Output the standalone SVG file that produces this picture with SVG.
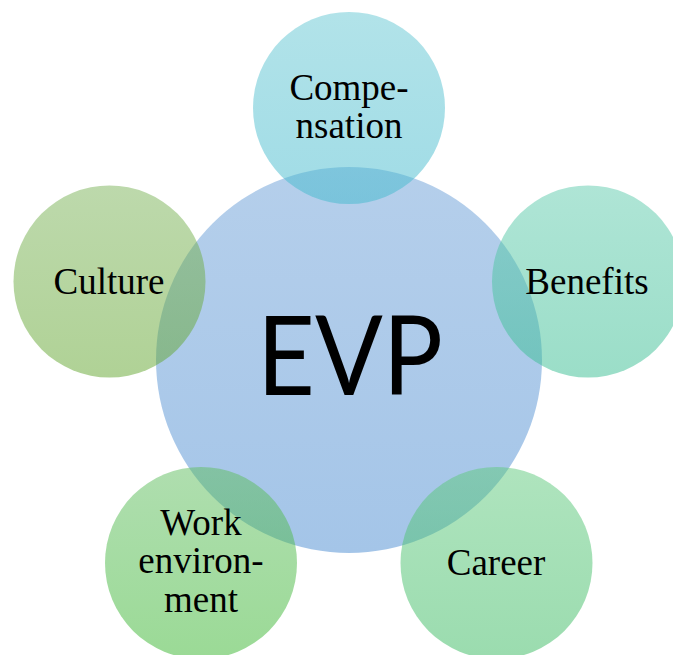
<svg xmlns="http://www.w3.org/2000/svg" width="673" height="655" viewBox="0 0 673 655">
<defs>
<linearGradient id="gC" x1="0" y1="0" x2="0" y2="1"><stop offset="0" stop-color="#b5cfeb"/><stop offset="1" stop-color="#a4c5e8"/></linearGradient>
<linearGradient id="gT" x1="0" y1="0" x2="0" y2="1"><stop offset="0" stop-color="#65c7d3"/><stop offset="1" stop-color="#41b9cd"/></linearGradient>
<linearGradient id="gB" x1="0" y1="0" x2="0" y2="1"><stop offset="0" stop-color="#5fcbad"/><stop offset="1" stop-color="#37bd91"/></linearGradient>
<linearGradient id="gL" x1="0" y1="0" x2="0" y2="1"><stop offset="0" stop-color="#7bb359"/><stop offset="1" stop-color="#61a52d"/></linearGradient>
<linearGradient id="gW" x1="0" y1="0" x2="0" y2="1"><stop offset="0" stop-color="#5fbd5f"/><stop offset="1" stop-color="#37b52d"/></linearGradient>
<linearGradient id="gR" x1="0" y1="0" x2="0" y2="1"><stop offset="0" stop-color="#5fc97d"/><stop offset="1" stop-color="#37b95f"/></linearGradient>
</defs>
<style>
.sat{fill-opacity:0.5}
.lbl{font-family:"Liberation Serif","Times New Roman",serif;font-size:37px;fill:#000;text-anchor:middle}
.evp{font-family:Lato,"Open Sans",sans-serif;font-size:110px;fill:#000;text-anchor:middle}
</style>
<g id="center">
<circle cx="349" cy="360" r="193" fill="url(#gC)"/>
<text class="evp" x="350" y="395" textLength="186" lengthAdjust="spacingAndGlyphs">EVP</text>
</g>
<g id="compensation">
<circle class="sat" cx="349" cy="108" r="96" fill="url(#gT)"/>
<text class="lbl" x="349" y="100">Compe-</text>
<text class="lbl" x="349" y="138">nsation</text>
</g>
<g id="benefits">
<circle class="sat" cx="588" cy="281.5" r="96" fill="url(#gB)"/>
<text class="lbl" x="587" y="294">Benefits</text>
</g>
<g id="culture">
<circle class="sat" cx="109.5" cy="281.5" r="96" fill="url(#gL)"/>
<text class="lbl" x="109" y="294">Culture</text>
</g>
<g id="work">
<circle class="sat" cx="201" cy="563" r="96" fill="url(#gW)"/>
<text class="lbl" x="201" y="535">Work</text>
<text class="lbl" x="201" y="573">environ-</text>
<text class="lbl" x="201" y="612">ment</text>
</g>
<g id="career">
<circle class="sat" cx="496.5" cy="563" r="96" fill="url(#gR)"/>
<text class="lbl" x="496" y="575">Career</text>
</g>
<g id="connectors"/>
</svg>
